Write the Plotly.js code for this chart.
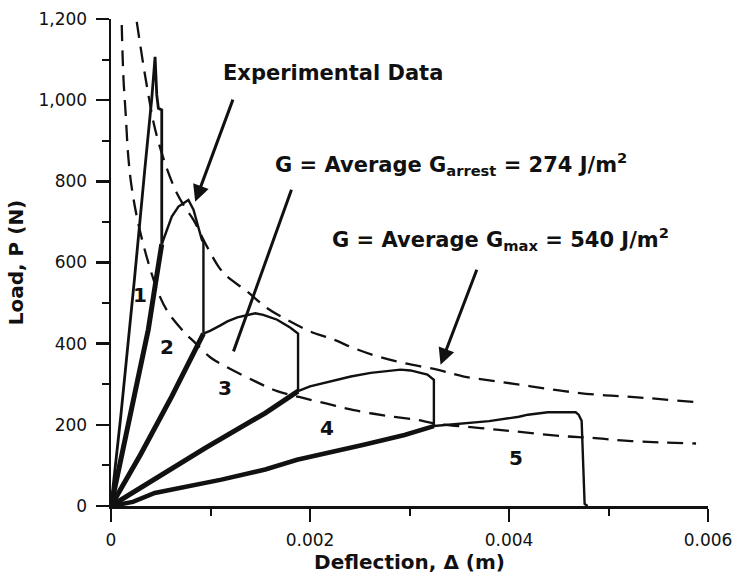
<!DOCTYPE html>
<html>
<head>
<meta charset="utf-8">
<script src="https://cdn.plot.ly/plotly-3.0.1.min.js"></script>
<style>html,body{margin:0;padding:0;background:#fff;}#chart{width:737px;height:581px;}</style>
</head>
<body>
<div id="chart"></div>
<script>
// ---- Data ----
// Deflection (m) and Load (N)
// Specimen 1
var s1x = [0, 0.0001, 0.000235, 0.00026, 0.00034, 0.00041, 0.000443, 0.00046, 0.000476, 0.00051, 0.00051];
var s1y = [0, 225, 557, 625, 830, 1005, 1107, 1013, 980, 976, 645];
// Specimen 2: reload (thick) and crack growth (thin)
var s2loadX = [0, 0.0002, 0.000375, 0.000443, 0.00051];
var s2loadY = [0, 225, 435, 542, 645];
var s2x = [0.00051, 0.000527, 0.000611, 0.000678, 0.000745, 0.000778, 0.000829, 0.000879, 0.000913, 0.000929, 0.000929];
var s2y = [645, 656, 713, 738, 750, 754, 730, 689, 656, 650, 425];
// Specimen 3
var s3loadX = [0, 0.0003, 0.000611, 0.000929];
var s3loadY = [0, 128, 270, 425];
var s3x = [0.000929, 0.001, 0.0011, 0.00117, 0.00127, 0.00137, 0.00145, 0.00153, 0.00167, 0.0018, 0.00187, 0.00188, 0.00188];
var s3y = [425, 432, 445, 455, 465, 471, 475, 471, 459, 440, 428, 425, 283];
// Specimen 4
var s4loadX = [0, 0.00095, 0.00155, 0.00188];
var s4loadY = [0, 143, 229, 283];
var s4x = [0.00188, 0.002, 0.00241, 0.00261, 0.00291, 0.00301, 0.00318, 0.003245, 0.003245];
var s4y = [283, 295, 319, 328, 336, 334, 324, 311, 197];
// Specimen 5
var s5loadX = [0, 0.00022, 0.00044, 0.00078, 0.00111, 0.00155, 0.00187, 0.00254, 0.00295, 0.003245];
var s5loadY = [0, 10, 32, 49, 65, 90, 114, 151, 175, 197];
var s5x = [0.003245, 0.0036, 0.0038, 0.0041, 0.00419, 0.00439, 0.00467, 0.0047, 0.00472, 0.00473, 0.00476, 0.00479];
var s5y = [197, 205, 209, 220, 225, 231, 231, 225, 217, 210, 5, 0];

// Constant-G curves (dashed)
var gMaxX = [0.000259, 0.000325, 0.000376, 0.000426, 0.000476, 0.000561, 0.000661, 0.000745, 0.000829, 0.000946, 0.00108, 0.001165, 0.001366, 0.001567, 0.001769, 0.002003, 0.002238, 0.002439, 0.002675, 0.002943, 0.003279, 0.003547, 0.003883, 0.004218, 0.004554, 0.00489, 0.005225, 0.00588];
var gMaxY = [1193, 1087, 1013, 947, 898, 832, 771, 735, 705, 648, 590, 566, 529, 488, 459, 430, 410, 389, 369, 352, 336, 319, 307, 295, 283, 274, 269, 256];
var gArrX = [0.000108, 0.000124, 0.000148, 0.000174, 0.000208, 0.000275, 0.000376, 0.000476, 0.000577, 0.000745, 0.000846, 0.001, 0.00115, 0.00145, 0.00167, 0.0019, 0.00217, 0.00244, 0.00278, 0.00308, 0.00326, 0.003715, 0.00405, 0.00455, 0.00482, 0.00523, 0.00588];
var gArrY = [1185, 1060, 964, 860, 785, 695, 599, 525, 476, 426, 402, 366, 344, 307, 283, 268, 252, 236, 222, 212, 203, 192, 184, 172, 168, 160, 154];

// Labels
var specimenLabels = ['1', '2', '3', '4', '5'];
var labelX = [0.000292, 0.000561, 0.001148, 0.002172, 0.004067];
var labelY = [520, 393, 291, 192, 118];

var xTickVals = [0, 0.002, 0.004, 0.006];
var xTickText = ['0', '0.002', '0.004', '0.006'];
var yTickVals = [0, 200, 400, 600, 800, 1000, 1200];
var yTickText = ['0', '200', '400', '600', '800', '1,000', '1,200'];

var textExp = '<b>Experimental Data</b>';
var textArr = '<b>G = Average G<sub>arrest</sub> = 274 J/m<sup>2</sup></b>';
var textMax = '<b>G = Average G<sub>max</sub> = 540 J/m<sup>2</sup></b>';

// ---- Plot ----
var ink = '#111';
function solid(x, y, w) {
  return {x: x, y: y, mode: 'lines', type: 'scatter', line: {color: ink, width: w}, hoverinfo: 'skip', showlegend: false};
}
function dashed(x, y) {
  return {x: x, y: y, mode: 'lines', type: 'scatter', line: {color: ink, width: 2.3, dash: '16px,9px', shape: 'spline'}, hoverinfo: 'skip', showlegend: false};
}
var traces = [
  dashed(gMaxX, gMaxY), dashed(gArrX, gArrY),
  solid(s1x, s1y, 2.8),
  solid(s2loadX, s2loadY, 5), solid(s2x, s2y, 2.4),
  solid(s3loadX, s3loadY, 5), solid(s3x, s3y, 2.4),
  solid(s4loadX, s4loadY, 5), solid(s4x, s4y, 2.4),
  solid(s5loadX, s5loadY, 4.5), solid(s5x, s5y, 2.4)
];

var font = 'DejaVu Sans, Arial, sans-serif';
var annotations = [];
for (var i = 0; i < specimenLabels.length; i++) {
  annotations.push({x: labelX[i], y: labelY[i], xref: 'x', yref: 'y', text: '<b>' + specimenLabels[i] + '</b>', showarrow: false, font: {family: font, size: 20, color: ink}});
}
annotations.push({x: 0.002235, y: 1068, xref: 'x', yref: 'y', text: textExp, showarrow: false, font: {family: font, size: 21, color: ink}});
annotations.push({x: 0.00163, y: 843, xref: 'x', yref: 'y', xanchor: 'left', text: textArr, showarrow: false, font: {family: font, size: 21, color: ink}});
annotations.push({x: 0.002205, y: 657, xref: 'x', yref: 'y', xanchor: 'left', text: textMax, showarrow: false, font: {family: font, size: 21, color: ink}});
// arrows
annotations.push({x: 0.000846, y: 750, ax: 0.001231, ay: 1005, xref: 'x', yref: 'y', axref: 'x', ayref: 'y', text: '', showarrow: true, arrowhead: 2, arrowsize: 1.1, arrowwidth: 3, arrowcolor: ink});
annotations.push({x: 0.001231, y: 381, ax: 0.001819, ay: 783, xref: 'x', yref: 'y', axref: 'x', ayref: 'y', text: '', showarrow: true, arrowhead: 0, arrowwidth: 3, arrowcolor: ink});
annotations.push({x: 0.003312, y: 348, ax: 0.003682, ay: 586, xref: 'x', yref: 'y', axref: 'x', ayref: 'y', text: '', showarrow: true, arrowhead: 2, arrowsize: 1.1, arrowwidth: 3, arrowcolor: ink});

var layout = {
  width: 737, height: 581,
  margin: {l: 111, r: 29, t: 19, b: 75},
  paper_bgcolor: '#fff', plot_bgcolor: '#fff',
  showlegend: false,
  font: {family: font, color: ink},
  xaxis: {
    range: [0, 0.006], showgrid: false, zeroline: false,
    showline: true, linewidth: 2.5, linecolor: ink,
    ticks: 'outside', ticklen: 13, tickwidth: 2.5, tickcolor: ink,
    tickvals: xTickVals, ticktext: xTickText,
    tickfont: {family: font, size: 17, color: ink},
    ticklabelstandoff: 4,
    minor: {dtick: 0.001, tick0: 0, ticks: 'outside', ticklen: 7, tickwidth: 2, tickcolor: ink},
    title: {text: 'Deflection, Δ (m)', font: {family: font, size: 20, color: ink, weight: 'bold'}, standoff: 6}
  },
  yaxis: {
    range: [0, 1200], showgrid: false, zeroline: false,
    showline: true, linewidth: 2.5, linecolor: ink,
    ticks: 'outside', ticklen: 13, tickwidth: 2.5, tickcolor: ink,
    tickvals: yTickVals, ticktext: yTickText,
    tickfont: {family: font, size: 17, color: ink},
    ticklabelstandoff: 5,
    minor: {dtick: 100, tick0: 0, ticks: 'outside', ticklen: 7, tickwidth: 2, tickcolor: ink},
    title: {text: 'Load, P (N)', font: {family: font, size: 20, color: ink, weight: 'bold'}, standoff: 10}
  },
  annotations: annotations
};

Plotly.newPlot('chart', traces, layout, {displayModeBar: false, staticPlot: true});
</script>
</body>
</html>
